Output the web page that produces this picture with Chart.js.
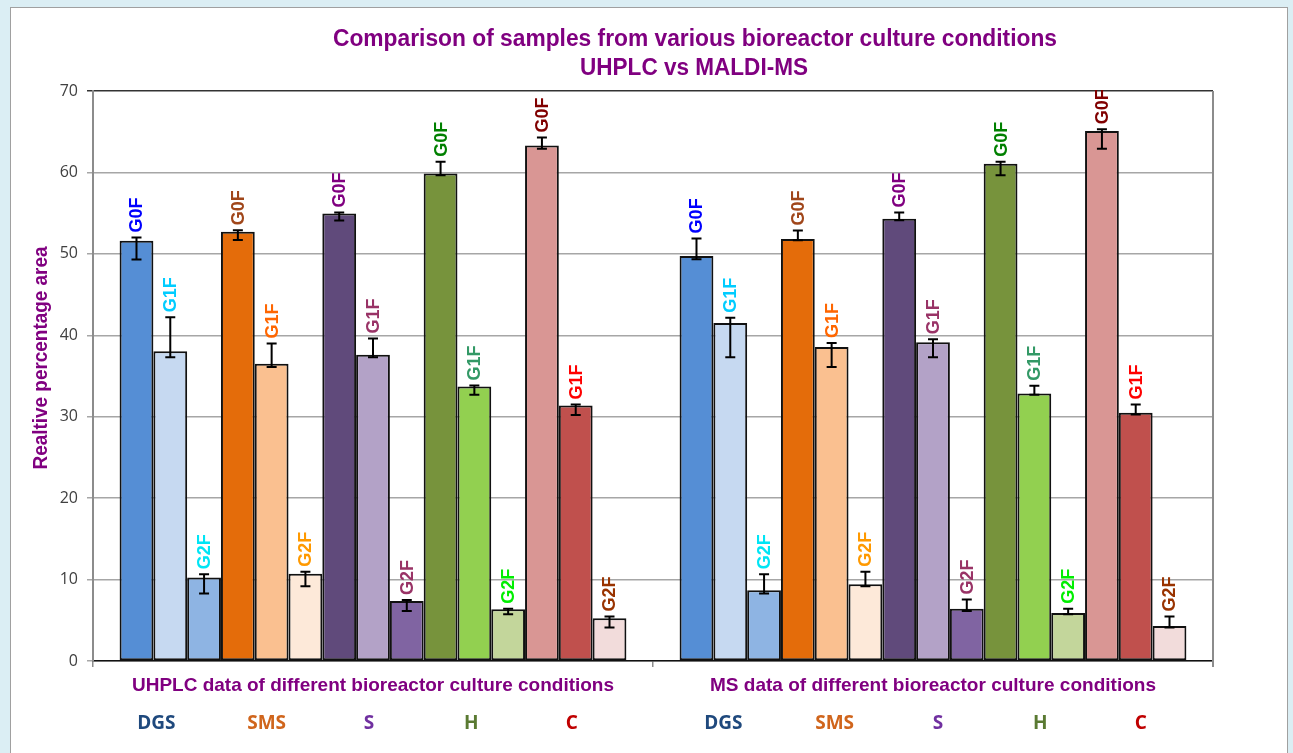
<!DOCTYPE html>
<html>
<head>
<meta charset="utf-8">
<script src="https://cdn.jsdelivr.net/npm/chart.js@4.4.1/dist/chart.umd.min.js"></script>
<style>
  html, body { margin: 0; padding: 0; background: #dbeef4; }
  #grafico { display: block; }
</style>
</head>
<body>
<canvas id="grafico" width="1293" height="753"></canvas>
<script>
// Categorias e séries
const grupos = ["UHPLC data of different bioreactor culture conditions", "MS data of different bioreactor culture conditions"];
const condicoes = ["DGS", "SMS", "S", "H", "C"];
const glicanos = ["G0F", "G1F", "G2F"];

// valores (ordem: DGS G0F, G1F, G2F, SMS G0F, ... C G2F)
const uhplc = [51.6, 38.05, 10.25, 52.7, 36.5, 10.7, 54.95, 37.6, 7.38, 59.87, 33.7, 6.36, 63.3, 31.37, 5.25];
const ms    = [49.74, 41.5, 8.7, 51.83, 38.55, 9.43, 54.3, 39.16, 6.43, 61.06, 32.85, 5.9, 65.1, 30.5, 4.3];

// limites das barras de erro
const uhplcErroAlto  = [52.0, 42.2, 10.66, 52.9, 39.0, 10.95, 55.07, 39.6, 7.5, 61.3, 33.83, 6.43, 64.3, 31.5, 5.45];
const uhplcErroBaixo = [49.3, 37.3, 8.28, 51.7, 36.1, 9.19, 54.1, 37.3, 6.15, 59.66, 32.7, 5.74, 62.9, 30.2, 4.1];
const msErroAlto     = [51.9, 42.15, 10.66, 52.86, 39.05, 10.95, 55.07, 39.5, 7.54, 61.3, 33.8, 6.43, 65.3, 31.5, 5.45];
const msErroBaixo    = [49.33, 37.3, 8.28, 51.66, 36.1, 9.19, 54.13, 37.3, 6.15, 59.66, 32.7, 5.74, 62.9, 30.26, 4.1];

const yTicks = [0, 10, 20, 30, 40, 50, 60, 70];

const coresBarras = [
  "#558ed5", "#c6d9f1", "#8eb4e3",
  "#e46c0a", "#fac090", "#fde9d9",
  "#604a7b", "#b3a2c7", "#8064a2",
  "#77933c", "#92d050", "#c3d69b",
  "#d99694", "#c0504d", "#f2dcdb"
];
const coresRotulos = [
  "#0000ff", "#00ccff", "#00e5f5",
  "#a0461a", "#ff6600", "#ff9900",
  "#800080", "#993366", "#993366",
  "#008000", "#339966", "#00ee00",
  "#800000", "#ff0000", "#993300"
];
const coresCondicoes = ["#1f497d", "#d0651c", "#7030a0", "#5a7a32", "#c00000"];

// deslocamento (px) dos nomes das condições em relação à barra do meio de cada trio
const desvioCondicoes = [[-14, -5, -4, -3, -4], [-7, 3, 5, 6, 5]];
const largTextoGrupo = [482, 446];

// escreve texto centrado, comprimido até a largura pedida
function textoAjustado(ctx, texto, cx, cy, largura) {
  const w = ctx.measureText(texto).width;
  const s = largura / w;
  ctx.save();
  ctx.translate(cx, cy);
  ctx.scale(s, 1);
  ctx.fillText(texto, 0, 0);
  ctx.restore();
}

const datasets = uhplc.map((v, i) => ({
  label: condicoes[Math.floor(i / 3)] + " " + glicanos[i % 3],
  glicano: glicanos[i % 3],
  corRotulo: coresRotulos[i],
  data: [v, ms[i]],
  erroAlto: [uhplcErroAlto[i], msErroAlto[i]],
  erroBaixo: [uhplcErroBaixo[i], msErroBaixo[i]],
  backgroundColor: coresBarras[i],
  borderColor: "#111",
  borderWidth: 2,
  borderSkipped: false
}));

const fundo = {
  id: "fundo",
  beforeDraw(chart) {
    const ctx = chart.ctx;
    ctx.save();
    ctx.fillStyle = "#dbeef4";
    ctx.fillRect(0, 0, chart.width, chart.height);
    ctx.fillStyle = "#fff";
    ctx.fillRect(10, 8, 1278, 760);
    ctx.strokeStyle = "#a0a0a0";
    ctx.lineWidth = 1;
    ctx.strokeRect(10.5, 7.5, 1277, 770);
    ctx.restore();
  }
};

const barrasErro = {
  id: "barrasErro",
  afterDatasetsDraw(chart) {
    const ctx = chart.ctx;
    const y = chart.scales.y;
    const area = chart.chartArea;
    ctx.save();
    // borda direita
    ctx.strokeStyle = "#8c8c8c";
    ctx.lineWidth = 2;
    ctx.beginPath();
    ctx.moveTo(area.right, area.top);
    ctx.lineTo(area.right, area.bottom + 6);
    ctx.stroke();

    chart.data.datasets.forEach((ds, i) => {
      const meta = chart.getDatasetMeta(i);
      meta.data.forEach((bar, j) => {
        const alto = y.getPixelForValue(ds.erroAlto[j]);
        const baixo = y.getPixelForValue(ds.erroBaixo[j]);
        ctx.strokeStyle = "#000";
        ctx.lineWidth = 2;
        ctx.beginPath();
        ctx.moveTo(bar.x, alto);
        ctx.lineTo(bar.x, baixo);
        ctx.moveTo(bar.x - 5, alto);
        ctx.lineTo(bar.x + 5, alto);
        ctx.moveTo(bar.x - 5, baixo);
        ctx.lineTo(bar.x + 5, baixo);
        ctx.stroke();
      });
    });

    // rótulos verticais
    ctx.font = "bold 18px 'Liberation Sans', Arial, sans-serif";
    ctx.textAlign = "left";
    ctx.textBaseline = "middle";
    chart.data.datasets.forEach((ds, i) => {
      const meta = chart.getDatasetMeta(i);
      meta.data.forEach((bar, j) => {
        const topo = Math.min(bar.y, y.getPixelForValue(ds.erroAlto[j])) - 5;
        ctx.save();
        ctx.translate(bar.x + 1, topo);
        ctx.rotate(-Math.PI / 2);
        ctx.fillStyle = ds.corRotulo;
        ctx.fillText(ds.glicano, 0, 0);
        ctx.restore();
      });
    });
    ctx.restore();
  }
};

const textos = {
  id: "textos",
  afterDraw(chart) {
    const ctx = chart.ctx;
    const x = chart.scales.x;
    ctx.save();
    ctx.fillStyle = "#800080";
    ctx.textAlign = "center";
    ctx.textBaseline = "middle";
    ctx.font = "bold 23px 'Liberation Sans', Arial, sans-serif";
    textoAjustado(ctx, "Comparison of samples from various bioreactor culture conditions", 695, 40, 724);
    textoAjustado(ctx, "UHPLC vs MALDI-MS", 694, 69, 228);

    // título do eixo y
    ctx.save();
    ctx.translate(41, 358);
    ctx.rotate(-Math.PI / 2);
    ctx.font = "bold 21px 'Liberation Sans', Arial, sans-serif";
    textoAjustado(ctx, "Realtive percentage area", 0, 0, 223);
    ctx.restore();

    // nomes dos grupos e das condições
    grupos.forEach((g, i) => {
      ctx.font = "bold 19px 'Liberation Sans', Arial, sans-serif";
      ctx.fillStyle = "#800080";
      textoAjustado(ctx, g, x.getPixelForValue(i), 686, largTextoGrupo[i]);
      ctx.font = "bold 19px 'Open Sans', sans-serif";
      condicoes.forEach((c, k) => {
        const meio = chart.getDatasetMeta(k * 3 + 1).data[i];
        ctx.fillStyle = coresCondicoes[k];
        ctx.fillText(c, meio.x + desvioCondicoes[i][k], 724);
      });
    });
    ctx.restore();
  }
};

const ctx = document.getElementById("grafico").getContext("2d");
new Chart(ctx, {
  type: "bar",
  data: { labels: grupos, datasets: datasets },
  options: {
    responsive: false,
    animation: false,
    layout: { padding: { left: 0, top: 91, right: 80, bottom: 86 } },
    datasets: { bar: { categoryPercentage: 0.905, barPercentage: 1.0 } },
    plugins: { legend: { display: false }, tooltip: { enabled: false }, title: { display: false } },
    scales: {
      x: {
        ticks: { display: false },
        grid: { display: true, offset: true, drawOnChartArea: false, tickLength: 6, color: "#8c8c8c", lineWidth: 1.5 },
        border: { display: true, color: "#111", width: 1.5 }
      },
      y: {
        min: 0,
        max: 70,
        afterFit(s) { s.width = 93; },
        afterBuildTicks(s) { s.ticks = yTicks.map(v => ({ value: v })); },
        ticks: {
          padding: 9,
          color: "#404040",
          font: { family: "'Open Sans', sans-serif", size: 16 }
        },
        grid: {
          color: c => (c.tick && c.tick.value === 70 ? "#333" : "#a6a6a6"),
          lineWidth: 1.5,
          tickLength: 6
        },
        border: { display: true, color: "#8c8c8c", width: 2 }
      }
    }
  },
  plugins: [fundo, barrasErro, textos]
});
</script>
</body>
</html>
